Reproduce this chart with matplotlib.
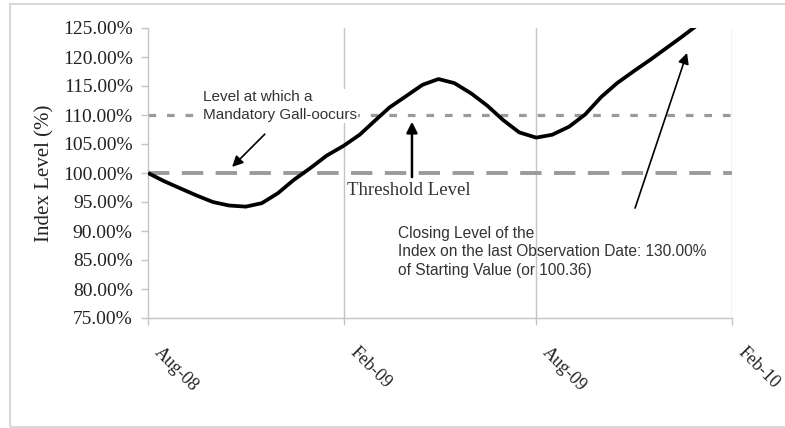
import matplotlib
matplotlib.use("Agg")
import matplotlib.pyplot as plt
import matplotlib.patches as patches
from matplotlib.transforms import ScaledTranslation
import pandas as pd

# index level (% of starting value), sampled twice a month
obs_dates = ["2008-08-01", "2008-08-16", "2008-09-01", "2008-09-16", "2008-10-01",
             "2008-10-16", "2008-11-01", "2008-11-16", "2008-12-01", "2008-12-16",
             "2009-01-01", "2009-01-16", "2009-02-01", "2009-02-16", "2009-03-01",
             "2009-03-16", "2009-04-01", "2009-04-16", "2009-05-01", "2009-05-16",
             "2009-06-01", "2009-06-16", "2009-07-01", "2009-07-16", "2009-08-01",
             "2009-08-16", "2009-09-01", "2009-09-16", "2009-10-01", "2009-10-16",
             "2009-11-01", "2009-11-16", "2009-12-01", "2009-12-16", "2010-02-01"]
index_level = [100.0, 98.6, 97.3, 96.1, 95.0, 94.4, 94.2, 94.8, 96.5, 98.8,
               100.9, 103.0, 104.7, 106.6, 108.8, 111.3, 113.3, 115.2, 116.2, 115.5,
               113.7, 111.6, 109.1, 107.0, 106.1, 106.6, 108.0, 110.1, 113.1, 115.5,
               117.6, 119.5, 121.5, 123.5, 130.0]

threshold_level = 100.0
call_level = 110.0

tick_dates = ["2008-08-01", "2009-02-01", "2009-08-01", "2010-02-01"]
tick_labels = ["Aug-08", "Feb-09", "Aug-09", "Feb-10"]
y_ticks = [75, 80, 85, 90, 95, 100, 105, 110, 115, 120, 125]

serif = "Liberation Serif"
sans = "Liberation Sans"
grey = "#c4c4c4"

x = pd.to_datetime(obs_dates)
xt = pd.to_datetime(tick_dates)

fig = plt.figure(figsize=(7.85, 4.28), dpi=100)
ax = fig.add_axes([148 / 785, 1 - 318 / 428, 584 / 785, 290 / 428])

# outer frame
fig.patches.append(patches.Rectangle((10 / 785, 1 / 428), 1.0, 423 / 428,
                                     transform=fig.transFigure, fill=False,
                                     edgecolor="#d9d9d9", lw=1.5, clip_on=False))

for d in xt[1:]:
    ax.axvline(d, color=grey, lw=1.0, zorder=0)

ax.axhline(call_level, color="#9a9a9a", lw=2.3, dashes=(2.4, 3.4), zorder=1)
ax.axhline(threshold_level, color="#9a9a9a", lw=2.8, dashes=(5.5, 3.2), zorder=1)

ax.plot(x, index_level, color="black", lw=2.7, solid_joinstyle="round",
        solid_capstyle="butt", zorder=3)

ax.set_xlim(xt[0], xt[-1])
ax.set_ylim(75, 125)
ax.set_yticks(y_ticks)
ax.set_yticklabels([f"{v:.2f}%" for v in y_ticks], fontfamily=serif, fontsize=14,
                   color="#222222")
ax.set_xticks(xt)
ax.set_xticklabels(tick_labels, fontfamily=serif, fontsize=13, color="#222222",
                   rotation=-45, ha="left", va="center", rotation_mode="anchor")
ax.tick_params(axis="y", length=5, width=1, color=grey, pad=6)
ax.tick_params(axis="x", length=5, width=1, color=grey, pad=18)
# nudge the slanted date labels to the right
for lbl in ax.get_xticklabels():
    lbl.set_transform(lbl.get_transform() +
                      ScaledTranslation(0.09, 0.0, fig.dpi_scale_trans))

for s in ("top", "right"):
    ax.spines[s].set_visible(False)
for s in ("left", "bottom"):
    ax.spines[s].set_color(grey)
    ax.spines[s].set_linewidth(1.0)

ax.set_ylabel("Index Level (%)", fontfamily=serif, fontsize=15, color="#222222",
              labelpad=6)

arrow = dict(arrowstyle="-|>", color="black", lw=1.2, mutation_scale=16,
             shrinkA=0, shrinkB=0)

ax.text(0.094, 0.731, "Level at which a\nMandatory Gall-oocurs", transform=ax.transAxes,
        fontfamily=sans, fontsize=11, color="#333333", va="center", ha="left",
        linespacing=1.3, zorder=4,
        bbox=dict(boxstyle="square,pad=0.1", fc="white", ec="none"))
ax.annotate("", xy=(0.144, 0.521), xytext=(0.200, 0.634), xycoords="axes fraction",
            textcoords="axes fraction", arrowprops=arrow, zorder=5)

ax.text(0.341, 0.441, "Threshold Level", transform=ax.transAxes, fontfamily=serif,
        fontsize=13.5, color="#333333", va="center", ha="left")
ax.annotate("", xy=(0.452, 0.677), xytext=(0.452, 0.486), xycoords="axes fraction",
            textcoords="axes fraction",
            arrowprops=dict(arrow, lw=1.8), zorder=5)

ax.text(0.428, 0.228,
        "Closing Level of the\nIndex on the last Observation Date: 130.00%\n"
        "of Starting Value (or 100.36)",
        transform=ax.transAxes, fontfamily=sans, fontsize=11.2, color="#333333",
        va="center", ha="left", linespacing=1.3)
ax.annotate("", xy=(0.923, 0.914), xytext=(0.834, 0.379), xycoords="axes fraction",
            textcoords="axes fraction", arrowprops=arrow, zorder=5)

fig.savefig("out.png", dpi=100)
